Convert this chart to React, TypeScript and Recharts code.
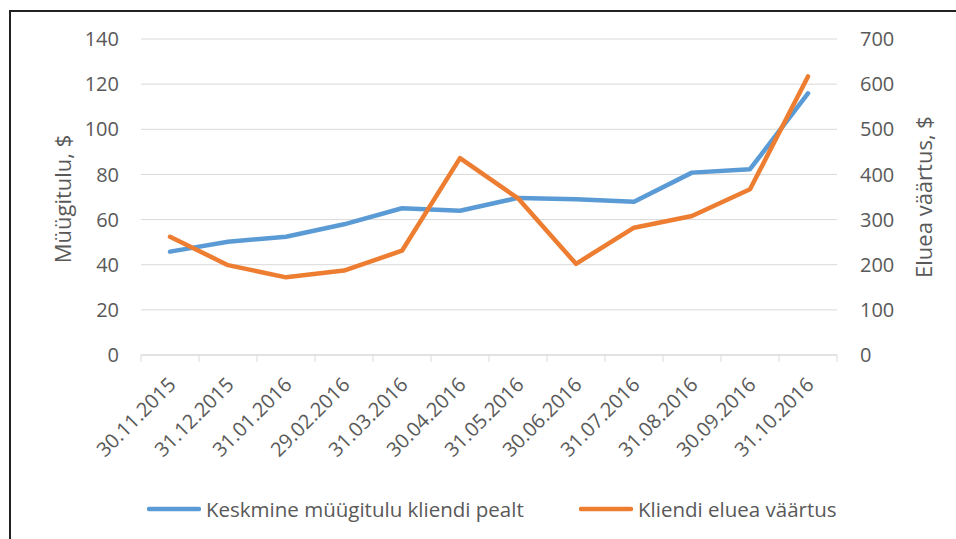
import React from 'react';
import { LineChart, Line, XAxis, YAxis, CartesianGrid, Legend, Label } from 'recharts';

const categories = ['30.11.2015', '31.12.2015', '31.01.2016', '29.02.2016', '31.03.2016', '30.04.2016', '31.05.2016', '30.06.2016', '31.07.2016', '31.08.2016', '30.09.2016', '31.10.2016'];
const revenue = [45.8, 50.2, 52.4, 57.9, 65.0, 63.9, 69.6, 69.0, 67.9, 80.8, 82.3, 115.9];
const lifetime = [262, 199, 172, 187, 231, 436, 347, 202, 282, 308, 367, 617];
const leftTicks = [0, 20, 40, 60, 80, 100, 120, 140];
const rightTicks = [0, 100, 200, 300, 400, 500, 600, 700];
const seriesNames = ['Keskmine müügitulu kliendi pealt', 'Kliendi eluea väärtus'];
const leftTitle = 'Müügitulu, $';
const rightTitle = 'Eluea väärtus, $';

const W = 956;
const H = 539;
const LEFT_W = 141;
const RIGHT_W = 119;
const PLOT_W = W - LEFT_W - RIGHT_W;
const BAND = PLOT_W / categories.length;
const FONT = '"Open Sans", "Noto Sans", sans-serif';
const TXT = '#595959';
const GRID = '#d9d9d9';
const BLUE = '#5B9BD5';
const ORANGE = '#ED7D31';

const data = categories.map((date, i) => ({ date, revenue: revenue[i], lifetime: lifetime[i] }));

function XTick(props: any) {
  const { x, y, payload, index } = props;
  const half = BAND / 2;
  return (
    <g>
      <line x1={x - half} x2={x - half} y1={y} y2={y + 7} stroke={GRID} strokeWidth={1} />
      {index === categories.length - 1 && (
        <line x1={x + half} x2={x + half} y1={y} y2={y + 7} stroke={GRID} strokeWidth={1} />
      )}
      <text
        transform={`translate(${x + 7},${y + 31}) rotate(-45)`}
        textAnchor="end"
        fill={TXT}
        fontSize={20}
        fontFamily={FONT}
      >
        {payload.value}
      </text>
    </g>
  );
}

function LegendContent(props: any) {
  const payload = props.payload || [];
  const starts = [147, 579];
  return (
    <div style={{ position: 'relative', height: 30, width: W }}>
      {payload.map((p: any, i: number) => (
        <div
          key={i}
          style={{ position: 'absolute', left: starts[i], top: 0, height: 30, display: 'flex', alignItems: 'center', whiteSpace: 'nowrap' }}
        >
          <svg width={54} height={30} style={{ display: 'block' }}>
            <line x1={2} x2={52} y1={15} y2={15} stroke={p.color} strokeWidth={4.5} strokeLinecap="round" />
          </svg>
          <span style={{ marginLeft: 5, fontFamily: FONT, fontSize: 20.5, color: TXT, lineHeight: '30px' }}>{p.value}</span>
        </div>
      ))}
    </div>
  );
}

export default function App() {
  return (
    <div style={{ position: 'fixed', left: 0, top: 0, width: W, height: H, background: '#fff', overflow: 'hidden' }}>
      <div style={{ position: 'absolute', left: 0, top: 0 }}>
        <LineChart width={W} height={H} data={data} margin={{ top: 39, right: 0, bottom: 0, left: 0 }}>
          <CartesianGrid yAxisId="left" vertical={false} stroke={GRID} strokeWidth={1} />
          <XAxis
            dataKey="date"
            padding={{ left: BAND / 2, right: BAND / 2 }}
            interval={0}
            height={154}
            tickLine={false}
            tickSize={0}
            tickMargin={0}
            axisLine={{ stroke: GRID, strokeWidth: 1 }}
            tick={<XTick />}
          />
          <YAxis
            yAxisId="left"
            orientation="left"
            width={LEFT_W}
            domain={[0, 140]}
            ticks={leftTicks}
            axisLine={false}
            tickLine={false}
            tickSize={0}
            tickMargin={22}
            tick={{ fill: TXT, fontSize: 20, fontFamily: FONT }}
          >
            <Label
              content={() => (
                <text transform="translate(62,199) rotate(-90)" textAnchor="middle" dominantBaseline="central" fill={TXT} fontSize={22} fontFamily={FONT}>
                  {leftTitle}
                </text>
              )}
            />
          </YAxis>
          <YAxis
            yAxisId="right"
            orientation="right"
            width={RIGHT_W}
            domain={[0, 700]}
            ticks={rightTicks}
            axisLine={false}
            tickLine={false}
            tickSize={0}
            tickMargin={23}
            tick={{ fill: TXT, fontSize: 20, fontFamily: FONT, textAnchor: 'start' }}
          >
            <Label
              content={() => (
                <text transform="translate(923,197) rotate(-90)" textAnchor="middle" dominantBaseline="central" fill={TXT} fontSize={22} fontFamily={FONT}>
                  {rightTitle}
                </text>
              )}
            />
          </YAxis>
          <Legend
            verticalAlign="bottom"
            layout="horizontal"
            wrapperStyle={{ left: 0, top: 494, width: W, height: 30 }}
            content={<LegendContent />}
          />
          <Line
            yAxisId="left"
            type="linear"
            dataKey="revenue"
            name={seriesNames[0]}
            stroke={BLUE}
            strokeWidth={4.5}
            strokeLinecap="round"
            strokeLinejoin="round"
            dot={false}
            activeDot={false}
            isAnimationActive={false}
          />
          <Line
            yAxisId="right"
            type="linear"
            dataKey="lifetime"
            name={seriesNames[1]}
            stroke={ORANGE}
            strokeWidth={4.5}
            strokeLinecap="round"
            strokeLinejoin="round"
            dot={false}
            activeDot={false}
            isAnimationActive={false}
          />
        </LineChart>
      </div>
      <div
        style={{ position: 'absolute', left: 9, top: 10, right: -10, bottom: -10, borderLeft: '2px solid #222', borderTop: '2px solid #222', pointerEvents: 'none' }}
      />
    </div>
  );
}
